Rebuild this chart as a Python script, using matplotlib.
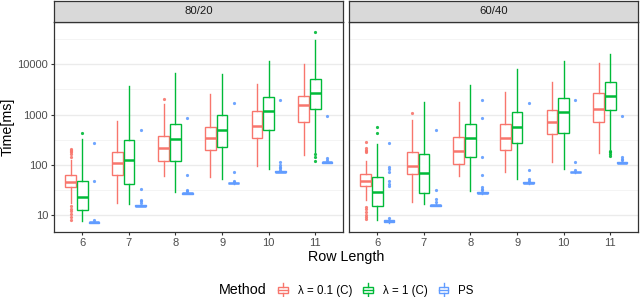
"""Boxplots of solve time by row length, one facet per split (80/20, 60/40)."""
import matplotlib
matplotlib.use("Agg")
import matplotlib.pyplot as plt
from matplotlib.legend_handler import HandlerBase
from matplotlib.patches import Patch, Rectangle
from matplotlib.lines import Line2D

plt.rcParams["font.family"] = ["Liberation Sans", "DejaVu Sans"]

row_lengths = [6, 7, 8, 9, 10, 11]
facets = ["80/20", "60/40"]
methods = ["λ = 0.1 (C)", "λ = 1 (C)", "PS"]
colors = ["#F8766D", "#00BA38", "#619CFF"]

# (whisker low, Q1, median, Q3, whisker high) per row length
s8020_l01 = [(17, 36, 46, 63.5, 125), (17, 61.5, 106, 183, 750), (60, 116, 213, 368, 1650),
             (57, 198, 346, 571, 2520), (94, 341, 597, 1180, 4150), (157, 716, 1530, 2335, 10150)]
f8020_l01 = [[8, 9, 10.5, 12, 13, 15, 145, 160, 175, 190, 200, 210], [], [2040], [], [], []]
s8020_l1 = [(7.5, 12.4, 23, 48, 326), (16.3, 41, 124, 316, 3630), (28, 116, 326, 655, 6760),
            (51, 226, 491, 970, 6540), (81, 498, 1165, 2265, 11750), (180, 1313, 2720, 5140, 30700)]
f8020_l1 = [[427], [], [], [], [], [120, 140, 165, 43400]]
s8020_ps = [(6.9, 7.0, 7.1, 7.3, 7.6), (14.8, 15, 15.3, 15.6, 16), (26, 26.5, 27, 27.5, 28.5),
            (41.5, 42.5, 43, 44, 45), (70, 71, 72, 73.5, 75), (107, 109, 111, 113, 118)]
f8020_ps = [[8.0, 47, 268], [17.5, 19, 20, 32.6, 490], [30, 31, 61.5, 870],
            [46, 47, 72, 1670], [80, 85, 90, 100, 112, 1920], [125, 135, 940]]

s6040_l01 = [(19.8, 38, 47, 64, 120), (18.3, 64, 94, 183, 760), (59, 105, 189, 357, 1780),
             (72, 192, 336, 635, 2800), (113, 409, 707, 1218, 4410), (170, 707, 1295, 2720, 10600)]
f6040_l01 = [[8.3, 9, 10, 11.5, 13, 14.5, 175, 190, 200, 215, 280], [1050], [], [], [], []]
s6040_l1 = [(8, 15, 28.5, 57, 256), (16.2, 27.6, 67.5, 167, 1780), (29.8, 142, 341, 645, 3790),
            (51, 268, 553, 1145, 8200), (81, 429, 1130, 2165, 11800), (207, 1255, 2335, 4480, 16000)]
f6040_l1 = [[422, 553], [], [], [], [], [146, 160, 175, 190]]
s6040_ps = [(7.0, 7.3, 7.5, 7.8, 8.2), (14.8, 15.2, 15.6, 16, 16.5), (26, 27, 27.5, 28, 29.5),
            (42, 43, 44, 45, 46.5), (69, 70, 71, 72.5, 75), (106, 108, 110, 112, 116)]
f6040_ps = [[8.8, 38, 42, 47, 72, 81, 90, 272], [18, 21, 32, 490], [31, 33, 36, 61.5, 142, 870, 1950],
            [48, 51, 77, 1725], [80, 113, 1920], [125, 132, 140, 940]]

facet_stats = [[s8020_l01, s8020_l1, s8020_ps], [s6040_l01, s6040_l1, s6040_ps]]
facet_fliers = [[f8020_l01, f8020_l1, f8020_ps], [f6040_l01, f6040_l1, f6040_ps]]

y_ticks = [10, 100, 1000, 10000]
y_minor = [10 ** 1.5, 10 ** 2.5, 10 ** 3.5, 10 ** 4.5]


class BoxKey(HandlerBase):
    """Legend key that looks like a tiny boxplot."""
    def create_artists(self, legend, orig_handle, xdescent, ydescent, width, height, fontsize, trans):
        c = orig_handle.get_edgecolor()
        x0, y0 = -xdescent, -ydescent
        box = Rectangle((x0, y0 + 0.25 * height), width, 0.5 * height,
                        facecolor="white", edgecolor=c, lw=1.0, transform=trans)
        med = Line2D([x0, x0 + width], [y0 + 0.5 * height] * 2, color=c, lw=1.0, transform=trans)
        w1 = Line2D([x0 + width / 2] * 2, [y0, y0 + 0.25 * height], color=c, lw=1.0, transform=trans)
        w2 = Line2D([x0 + width / 2] * 2, [y0 + 0.75 * height, y0 + height], color=c, lw=1.0, transform=trans)
        return [box, med, w1, w2]


W, H = 640, 297
fig = plt.figure(figsize=(W / 100, H / 100), dpi=100)
panel_left = [54.3, 349.3]
panel_w = 289
panel_top, panel_bot = 21.7, 232
offsets = [-0.25, 0.0, 0.25]

for i, name in enumerate(facets):
    ax = fig.add_axes([panel_left[i] / W, 1 - panel_bot / H, panel_w / W, (panel_bot - panel_top) / H])
    ax.set_yscale("log")
    for k in range(3):
        c = colors[k]
        stats = [dict(whislo=s[0], q1=s[1], med=s[2], q3=s[3], whishi=s[4], fliers=f)
                 for s, f in zip(facet_stats[i][k], facet_fliers[i][k])]
        ax.bxp(stats, positions=[r + offsets[k] for r in row_lengths], widths=0.23,
               showcaps=False, patch_artist=True, manage_ticks=False,
               boxprops=dict(facecolor="white", edgecolor=c, linewidth=1.0),
               whiskerprops=dict(color=c, linewidth=1.0),
               medianprops=dict(color=c, linewidth=1.8),
               flierprops=dict(marker="o", markersize=2.3, markerfacecolor=c,
                               markeredgecolor="none", alpha=0.9))
    ax.set_xlim(5.4, 11.6)
    ax.set_ylim(4.55, 70800)
    ax.set_xticks(row_lengths)
    ax.set_xticklabels([str(r) for r in row_lengths])
    ax.set_yticks(y_ticks)
    ax.set_yticklabels([str(t) for t in y_ticks])
    ax.set_yticks(y_minor, minor=True)
    ax.tick_params(which="minor", length=0)
    ax.tick_params(which="major", length=2.5, width=0.8, color="#333333", pad=2,
                   labelsize=8, labelcolor="#4D4D4D")
    if i > 0:
        ax.tick_params(left=False, labelleft=False)
    ax.set_axisbelow(True)
    ax.grid(axis="y", which="major", color="#EBEBEB", lw=1.0)
    ax.grid(axis="y", which="minor", color="#F2F2F2", lw=0.6)
    for sp in ax.spines.values():
        sp.set_color("#333333")
        sp.set_linewidth(0.9)

    # facet strip
    sx = fig.add_axes([panel_left[i] / W, 1 - panel_top / H, panel_w / W, (panel_top - 1) / H])
    sx.set_facecolor("#D9D9D9")
    sx.set_xticks([])
    sx.set_yticks([])
    for sp in sx.spines.values():
        sp.set_color("#333333")
        sp.set_linewidth(0.9)
    sx.text(0.5, 0.5, name, ha="center", va="center", fontsize=8.2, color="#1A1A1A",
            transform=sx.transAxes)

fig.text(7.5 / W, 1 - (panel_top + panel_bot) / 2 / H, "Time[ms]", rotation=90,
         ha="center", va="center", fontsize=10.3)
fig.text(346.5 / W, 1 - 257 / H, "Row Length", ha="center", va="center", fontsize=10.3)

fig.text(219.3 / W, 1 - 290 / H, "Method", ha="left", va="center", fontsize=10.3)
handles = [Patch(facecolor="white", edgecolor=c) for c in colors]
fig.legend(handles, methods, handler_map={Patch: BoxKey()}, loc="center",
           bbox_to_anchor=(376 / W, 1 - 290 / H), ncol=3, frameon=False, fontsize=8.3,
           handlelength=0.85, handleheight=1.4, handletextpad=0.85, columnspacing=0.95,
           borderpad=0, borderaxespad=0)

fig.savefig("out.png", dpi=100)
